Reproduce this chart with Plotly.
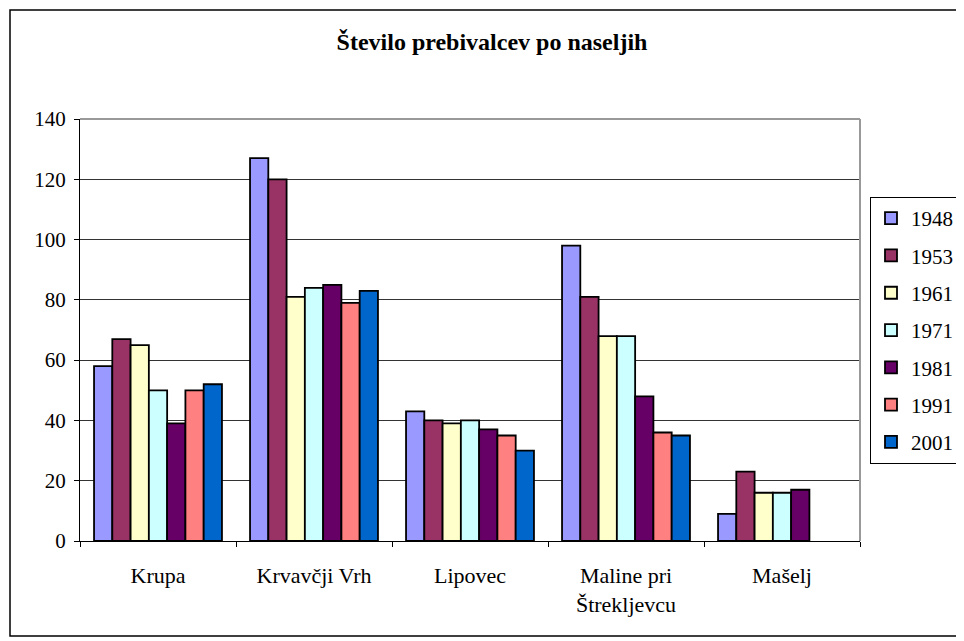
import plotly.graph_objects as go

categories = ["Krupa", "Krvavčji Vrh", "Lipovec", "Maline pri<br>Štrekljevcu", "Mašelj"]
years = ["1948", "1953", "1961", "1971", "1981", "1991", "2001"]
v1948 = [58, 127, 43, 98, 9]
v1953 = [67, 120, 40, 81, 23]
v1961 = [65, 81, 39, 68, 16]
v1971 = [50, 84, 40, 68, 16]
v1981 = [39, 85, 37, 48, 17]
v1991 = [50, 79, 35, 36, None]
v2001 = [52, 83, 30, 35, None]
series = [v1948, v1953, v1961, v1971, v1981, v1991, v2001]
colors = ["#9999FF", "#993366", "#FFFFCC", "#CCFFFF", "#660066", "#FF8080", "#0066CC"]
y_ticks = [0, 20, 40, 60, 80, 100, 120, 140]

FONT = "Liberation Serif, DejaVu Serif, serif"

fig = go.Figure()
for name, vals, col in zip(years, series, colors):
    fig.add_trace(go.Bar(
        x=categories, y=vals, name=name, legendgroup=name,
        marker=dict(color=col, line=dict(color="black", width=1.8)),
    ))

OFF = 8  # page body margin
W, H = 964, 641
SL, SR, ST, SB = 80, 860, 119, 541
L = SL - OFF
T = ST - OFF
R = W - (SR - OFF)
B = H - (SB - OFF)
pw, ph = W - L - R, H - T - B

def px_x(x):
    return (x - OFF - L) / pw

def px_y(y):
    return (H - B - (y - OFF)) / ph

fig.update_layout(
    width=W, height=H,
    margin=dict(l=L, r=R, t=T, b=B),
    paper_bgcolor="white", plot_bgcolor="white",
    barmode="group", bargap=0.18, bargroupgap=0,
    font=dict(family=FONT, size=20, color="black"),
    title=dict(text="<b>Število prebivalcev po naseljih</b>", x=(492 - OFF) / W, xanchor="center",
               y=1 - (42 - OFF) / H, yanchor="middle", font=dict(family=FONT, size=24, color="black")),
    legend=dict(x=px_x(870), y=px_y(197), xanchor="left", yanchor="top",
                bordercolor="black", borderwidth=1, bgcolor="white",
                font=dict(family=FONT, size=21), tracegroupgap=7,
                itemwidth=30),
    xaxis=dict(showline=True, linecolor="black", linewidth=1,
               ticks="outside", ticklen=5, tickcolor="black", tickson="boundaries",
               showgrid=False, tickfont=dict(family=FONT, size=22), ticklabelstandoff=15),
    yaxis=dict(range=[0, 140], tickvals=y_ticks, showline=True, linecolor="black", linewidth=1,
               ticks="outside", ticklen=5, tickcolor="black",
               showgrid=True, gridcolor="#333333", gridwidth=1, zeroline=False,
               tickfont=dict(family=FONT, size=21), ticklabelstandoff=4),
    shapes=[
        dict(type="line", xref="paper", yref="paper", x0=0, x1=1, y0=1, y1=1,
             line=dict(color="#999999", width=2), layer="above"),
        dict(type="line", xref="paper", yref="paper", x0=1, x1=1, y0=0, y1=1,
             line=dict(color="#999999", width=2), layer="above"),
        dict(type="rect", xref="paper", yref="paper", x0=px_x(10), x1=px_x(975),
             y0=px_y(636), y1=px_y(10), line=dict(color="black", width=1.5), layer="below"),
    ],
)

fig.write_html("out.html")
